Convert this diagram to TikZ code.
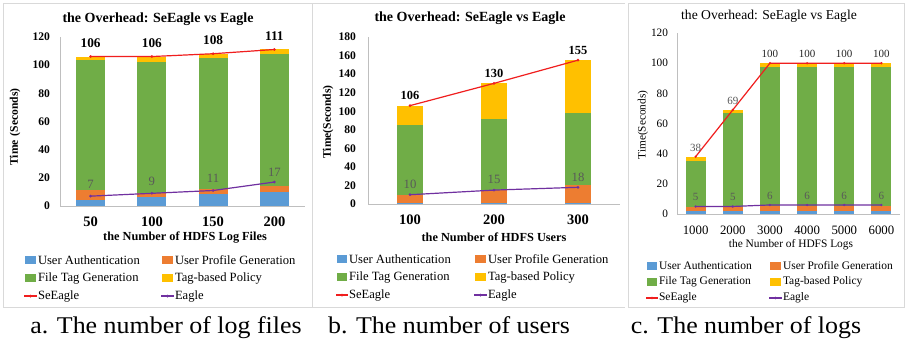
\documentclass[tikz,border=0pt]{standalone}
\usepackage{fontspec}
\setmainfont{Liberation Serif}
\definecolor{cblue}{HTML}{5B9BD5}
\definecolor{corange}{HTML}{ED7D31}
\definecolor{cgreen}{HTML}{70AD47}
\definecolor{cyellow}{HTML}{FFC000}
\definecolor{cred}{HTML}{F01E1E}
\definecolor{cpurple}{HTML}{7030A0}
\definecolor{axisgray}{HTML}{BFBFBF}
\definecolor{panelgray}{HTML}{D9D9D9}
\definecolor{lblgray}{HTML}{595959}
\newcommand\mybar[6]{%
 \fill[cblue] (#1-#2,0) rectangle (#1+#2,#3);
 \fill[corange] (#1-#2,#3) rectangle (#1+#2,#4);
 \fill[cgreen] (#1-#2,#4) rectangle (#1+#2,#5);
 \fill[cyellow] (#1-#2,#5) rectangle (#1+#2,#6);}
\newcommand\fs[1]{\fontsize{#1}{#1}\selectfont}
\begin{document}
\begin{tikzpicture}[x=1pt,y=-1pt,
  every node/.style={inner sep=0pt, outer sep=0pt},
  panel/.style={draw=panelgray, line width=0.8pt},
  axisline/.style={draw=axisgray, line width=0.8pt},
  seline/.style={draw=cred, line width=1.2pt},
  eline/.style={draw=cpurple, line width=1.2pt},
  semark/.style={fill=cred, draw=none},
  emark/.style={fill=cpurple, draw=none},
  titleA/.style={font=\fs{14}\bfseries},
  titleC/.style={font=\fs{13.6}},
  tickA/.style={font=\fs{11.6}\bfseries, anchor=east},
  tickC/.style={font=\fs{11.3}, anchor=east},
  xlabA/.style={font=\fs{14.5}\bfseries},
  xlabC/.style={font=\fs{12.8}},
  xtitA/.style={font=\fs{12.3}\bfseries},
  xtitC/.style={font=\fs{11.4}},
  ytitA/.style={font=\fs{11.6}\bfseries, rotate=90},
  ytitC/.style={font=\fs{11.3}, rotate=90},
  legA/.style={font=\fs{12.6}, anchor=west},
  legC/.style={font=\fs{11.5}, anchor=west},
  slabA/.style={font=\fs{13.3}\bfseries},
  slabB/.style={font=\fs{12.4}\bfseries},
  elabA/.style={font=\fs{12.7}, text=lblgray},
  labC/.style={font=\fs{11}, text=lblgray},
  labCk/.style={font=\fs{11}, text=black!85},
  captxt/.style={font=\fs{24}, anchor=base}
]
\useasboundingbox (0,0) rectangle (906,341);
\fill[white] (0,0) rectangle (906,341);
% panels
\draw[panel] (3,3) rectangle (312,307);
\draw[panel] (312,3) -- (625,3);
\draw[panel] (312,307) -- (625,307);
\draw[panel] (628,3) rectangle (904,307);

% ================= chart a =================
\begin{scope}[shift={(60,206)}, yscale=-1.41]
 \mybar{30.6}{14.5}{4.3}{11.3}{103.5}{106}
 \mybar{91.9}{14.5}{6.1}{9.4}{102.3}{106}
 \mybar{153.1}{14.5}{8.3}{11.8}{104.7}{108}
 \mybar{214.4}{14.5}{10}{14.4}{107.8}{111}
 \draw[axisline] (0,0) -- (245,0);
 \draw[axisline] (0,0) -- (0,120);
 \foreach \v in {0,20,...,120} \node[tickA] (atk\v) at (-10,\v) {\v};
 \coordinate (aS1) at (30.6,106); \coordinate (aS2) at (91.9,106);
 \coordinate (aS3) at (153.1,108); \coordinate (aS4) at (214.4,111);
 \coordinate (aE1) at (30.6,7); \coordinate (aE2) at (91.9,9);
 \coordinate (aE3) at (153.1,11); \coordinate (aE4) at (214.4,17);
\end{scope}
\draw[seline] (aS1) -- (aS2) -- (aS3) -- (aS4);
\draw[eline] (aE1) -- (aE2) -- (aE3) -- (aE4);
\foreach \p in {aS1,aS2,aS3,aS4} \fill[semark] (\p) circle (1.5);
\foreach \p in {aE1,aE2,aE3,aE4} \fill[emark] (\p) circle (1.5);
\node[slabA, above=9pt] (aSL1) at (aS1) {106};
\node[slabA, above=9pt] (aSL2) at (aS2) {106};
\node[slabA, above=9pt] (aSL3) at (aS3) {108};
\node[slabA, above=9pt] (aSL4) at (aS4) {111};
\node[elabA, above=8pt] (aEL1) at (aE1) {7};
\node[elabA, above=8pt] (aEL2) at (aE2) {9};
\node[elabA, above=8pt] (aEL3) at (aE3) {11};
\node[elabA, above=6pt] (aEL4) at (aE4) {17};
\node[titleA] (aT) at (158,19) {the Overhead: SeEagle vs Eagle};
\node[xlabA] (ax1) at (90.6,222) {50};
\node[xlabA] (ax2) at (151.9,222) {100};
\node[xlabA] (ax3) at (213.1,222) {150};
\node[xlabA] (ax4) at (274.4,222) {200};
\node[xtitA] (aXT) at (185,238) {the Number of HDFS Log Files};
\node[ytitA] (aYT) at (15,127) {Time\hspace{4pt}(Seconds)};
\fill[cblue] (25,256) rectangle (36,264);
\node[legA] (aL1) at (38,260) {User Authentication};
\fill[corange] (162,256) rectangle (173,264);
\node[legA] (aL2) at (175,260) {User Profile Generation};
\fill[cgreen] (25,274) rectangle (36,282);
\node[legA] (aL3) at (38,278) {File Tag Generation};
\fill[cyellow] (162,274) rectangle (173,282);
\node[legA] (aL4) at (175,278) {Tag-based Policy};
\coordinate (aK5a) at (24,296); \coordinate (aK5b) at (37,296);
\draw[seline] (aK5a) -- (aK5b); \fill[semark] (30.5,296) circle (1.5);
\node[legA] (aL5) at (38,296) {SeEagle};
\coordinate (aK6a) at (161,296); \coordinate (aK6b) at (174,296);
\draw[eline] (aK6a) -- (aK6b); \fill[emark] (167.5,296) circle (1.5);
\node[legA] (aL6) at (175,296) {Eagle};

% ================= chart b =================
\begin{scope}[shift={(368,204)}, yscale=-0.928]
 \mybar{42}{13}{1.2}{10}{85.5}{106}
 \mybar{126}{13}{1.2}{15}{91.5}{130}
 \mybar{210}{13}{1.2}{20.5}{97.7}{155}
 \draw[axisline] (0,0) -- (252,0);
 \draw[axisline] (0,0) -- (0,180);
 \foreach \v in {0,20,...,180} \node[tickA] (btk\v) at (-12,\v) {\v};
 \coordinate (bS1) at (42,106); \coordinate (bS2) at (126,130); \coordinate (bS3) at (210,155);
 \coordinate (bE1) at (42,10); \coordinate (bE2) at (126,15); \coordinate (bE3) at (210,18);
\end{scope}
\draw[seline] (bS1) -- (bS2) -- (bS3);
\draw[eline] (bE1) -- (bE2) -- (bE3);
\foreach \p in {bS1,bS2,bS3} \fill[semark] (\p) circle (1.5);
\foreach \p in {bE1,bE2,bE3} \fill[emark] (\p) circle (1.5);
\node[slabB, above=6pt] (bSL1) at (bS1) {106};
\node[slabB, above=6pt] (bSL2) at (bS2) {130};
\node[slabB, above=6pt] (bSL3) at (bS3) {155};
\node[elabA, above=6pt] (bEL1) at (bE1) {10};
\node[elabA, above=6pt] (bEL2) at (bE2) {15};
\node[elabA, above=6pt] (bEL3) at (bE3) {18};
\node[titleA] (bT) at (470,18) {the Overhead: SeEagle vs Eagle};
\node[xlabA] (bx1) at (410,220) {100};
\node[xlabA] (bx2) at (494,220) {200};
\node[xlabA] (bx3) at (578,220) {300};
\node[xtitA] (bXT) at (494,237) {the Number of HDFS Users};
\node[ytitA] (bYT) at (328,122) {Time(Seconds)};
\fill[cblue] (337,255) rectangle (347,263);
\node[legA] (bL1) at (349,259) {User Authentication};
\fill[corange] (475,255) rectangle (486,263);
\node[legA] (bL2) at (488,259) {User Profile Generation};
\fill[cgreen] (337,273) rectangle (347,281);
\node[legA] (bL3) at (349,277) {File Tag Generation};
\fill[cyellow] (475,273) rectangle (486,281);
\node[legA] (bL4) at (488,277) {Tag-based Policy};
\coordinate (bK5a) at (336,295); \coordinate (bK5b) at (348,295);
\draw[seline] (bK5a) -- (bK5b); \fill[semark] (342,295) circle (1.5);
\node[legA] (bL5) at (349,295) {SeEagle};
\coordinate (bK6a) at (474,295); \coordinate (bK6b) at (487,295);
\draw[eline] (bK6a) -- (bK6b); \fill[emark] (480.5,295) circle (1.5);
\node[legA] (bL6) at (488,295) {Eagle};

% ================= chart c =================
\begin{scope}[shift={(677,214)}, yscale=-1.508]
 \mybar{18.6}{10}{2}{4.4}{35.3}{38}
 \mybar{55.75}{10}{2}{4.6}{66.8}{69}
 \mybar{92.9}{10}{2}{5.6}{97.8}{100}
 \mybar{130.1}{10}{2}{5.6}{97.8}{100}
 \mybar{167.2}{10}{2}{5.6}{97.8}{100}
 \mybar{204.4}{10}{2}{5.6}{97.8}{100}
 \draw[axisline] (0,0) -- (223,0);
 \draw[axisline] (0,0) -- (0,120);
 \foreach \v in {0,20,...,120} \node[tickC] (ctk\v) at (-9,\v) {\v};
 \coordinate (cS1) at (18.6,38); \coordinate (cS2) at (55.75,69);
 \coordinate (cS3) at (92.9,100); \coordinate (cS4) at (130.1,100);
 \coordinate (cS5) at (167.2,100); \coordinate (cS6) at (204.4,100);
 \coordinate (cE1) at (18.6,5); \coordinate (cE2) at (55.75,5);
 \coordinate (cE3) at (92.9,6); \coordinate (cE4) at (130.1,6);
 \coordinate (cE5) at (167.2,6); \coordinate (cE6) at (204.4,6);
\end{scope}
\draw[seline] (cS1) -- (cS2) -- (cS3) -- (cS4) -- (cS5) -- (cS6);
\draw[eline] (cE1) -- (cE2) -- (cE3) -- (cE4) -- (cE5) -- (cE6);
\foreach \p in {cS1,cS2,cS3,cS4,cS5,cS6} \fill[semark] (\p) circle (1.3);
\foreach \p in {cE1,cE2,cE3,cE4,cE5,cE6} \fill[emark] (\p) circle (1.3);
\node[labC, above=5.5pt] (cSL1) at (cS1) {38};
\node[labC, above=5.5pt] (cSL2) at (cS2) {69};
\node[labCk, above=6pt] (cSL3) at (cS3) {100};
\node[labCk, above=6pt] (cSL4) at (cS4) {100};
\node[labCk, above=6pt] (cSL5) at (cS5) {100};
\node[labCk, above=6pt] (cSL6) at (cS6) {100};
\node[labC, above=5.5pt] (cEL1) at (cE1) {5};
\node[labC, above=5.5pt] (cEL2) at (cE2) {5};
\node[labC, above=5.5pt] (cEL3) at (cE3) {6};
\node[labC, above=5.5pt] (cEL4) at (cE4) {6};
\node[labC, above=5.5pt] (cEL5) at (cE5) {6};
\node[labC, above=5.5pt] (cEL6) at (cE6) {6};
\node[titleC] (cT) at (769,16) {the Overhead: SeEagle vs Eagle};
\node[xlabC] (cx1) at (695.6,230) {1000};
\node[xlabC] (cx2) at (732.8,230) {2000};
\node[xlabC] (cx3) at (769.9,230) {3000};
\node[xlabC] (cx4) at (807.1,230) {4000};
\node[xlabC] (cx5) at (844.3,230) {5000};
\node[xlabC] (cx6) at (881.4,230) {6000};
\node[xtitC] (cXT) at (791,245) {the Number of HDFS Logs};
\node[ytitC] (cYT) at (643,125) {Time(Seconds)};
\fill[cblue] (647,262) rectangle (657,270);
\node[legC] (cL1) at (659,266) {User Authentication};
\fill[corange] (770,262) rectangle (781,270);
\node[legC] (cL2) at (783,266) {User Profile Generation};
\fill[cgreen] (647,278) rectangle (657,286);
\node[legC] (cL3) at (659,282) {File Tag Generation};
\fill[cyellow] (770,278) rectangle (781,286);
\node[legC] (cL4) at (783,282) {Tag-based Policy};
\coordinate (cK5a) at (646,298); \coordinate (cK5b) at (658,298);
\draw[seline] (cK5a) -- (cK5b); \fill[semark] (652,298) circle (1.3);
\node[legC] (cL5) at (659,298) {SeEagle};
\coordinate (cK6a) at (769,298); \coordinate (cK6b) at (782,298);
\draw[eline] (cK6a) -- (cK6b); \fill[emark] (775.5,298) circle (1.3);
\node[legC] (cL6) at (783,298) {Eagle};

% captions
\node[captxt] (capa) at (166,333) {\scalebox{1.08}[1]{a. The number of log files}};
\node[captxt] (capb) at (449,333) {\scalebox{1.08}[1]{b. The number of users}};
\node[captxt] (capc) at (746,333) {\scalebox{1.08}[1]{c. The number of logs}};
\end{tikzpicture}
\end{document}
